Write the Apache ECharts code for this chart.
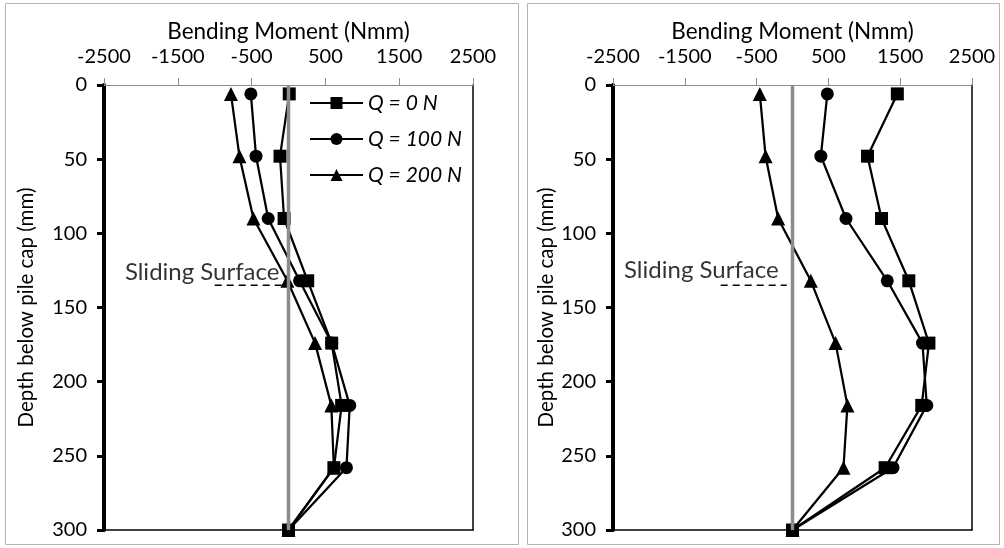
<!DOCTYPE html>
<html>
<head>
<meta charset="utf-8">
<script src="https://cdn.jsdelivr.net/npm/echarts@6/dist/echarts.min.js"></script>
<style>
  html, body { margin: 0; padding: 0; background: #fff; }
  #chart { width: 1004px; height: 548px; }
</style>
</head>
<body>
<div id="chart"></div>
<script>
// Depth of each gauge below the pile cap (mm)
const depths = [6, 48, 90, 132, 174, 216, 258, 300];

// Bending moment profiles (Nmm), left pile
const leftQ0   = [10, -115, -60, 260, 585, 720, 615, 0];
const leftQ100 = [-510, -440, -275, 150, 585, 830, 785, 0];
const leftQ200 = [-780, -665, -475, -15, 360, 580, 615, 0];

// Bending moment profiles (Nmm), right pile
const rightQ0   = [1460, 1045, 1240, 1620, 1900, 1800, 1290, 0];
const rightQ100 = [485, 395, 745, 1320, 1810, 1870, 1400, 0];
const rightQ200 = [-455, -375, -200, 255, 600, 765, 710, 0];

const seriesNames = ['Q = 0 N', 'Q = 100 N', 'Q = 200 N'];
const xTicks = [-2500, 2500, 1000];   // min, max, step
const yTicks = [0, 300, 50];

// Sliding surface marker: depth and extent of dashed line, label anchor per chart
const slidingDepth = 135;
const slidingLine = [-1000, -80];
const slidingLabelLeft = [-1170, 126];
const slidingLabelRight = [-1270, 125];

const FONT = 'Lato';
const FS_TITLE = 22.5;
const FS_YNAME = 20.5;
const FS_TICK = 20;
const FS_LEGEND = 21;
const FS_NOTE = 24;

const chart = echarts.init(document.getElementById('chart'), null, { renderer: 'canvas' });

function pairs(values) {
  return values.map((v, i) => [v, depths[i]]);
}

function plain(v) { return String(v); }

function grids() {
  return [
    { left: 104, right: 531, top: 85, bottom: 18 },
    { left: 613, right: 32, top: 85, bottom: 18 }
  ];
}

function xAxes() {
  const axes = [];
  [0, 1].forEach(g => {
    axes.push({
      type: 'value', gridIndex: g, position: 'top',
      min: xTicks[0], max: xTicks[1], interval: xTicks[2],
      name: 'Bending Moment (Nmm)', nameLocation: 'middle', nameGap: 42,
      nameMoveOverlap: false,
      nameTextStyle: { fontFamily: FONT, fontSize: FS_TITLE, color: '#000' },
      axisLine: { show: true, lineStyle: { color: '#8c8c8c', width: 1 } },
      axisTick: { show: true, inside: false, length: 7, lineStyle: { color: '#8c8c8c', width: 1 } },
      axisLabel: { fontFamily: FONT, fontSize: FS_TICK, color: '#000', margin: 18, formatter: plain },
      splitLine: { show: false }
    });
  });
  // bottom frame lines of each plot
  [0, 1].forEach(g => {
    axes.push({
      type: 'value', gridIndex: g, position: 'bottom',
      min: xTicks[0], max: xTicks[1],
      axisLine: { show: true, onZero: false, lineStyle: { color: '#000', width: 1.5 } },
      axisTick: { show: false }, axisLabel: { show: false }, splitLine: { show: false }
    });
  });
  return axes;
}

function yAxes() {
  const axes = [];
  const gaps = [67, 54];
  [0, 1].forEach(g => {
    axes.push({
      type: 'value', gridIndex: g, position: 'left', inverse: true,
      min: yTicks[0], max: yTicks[1], interval: yTicks[2],
      name: 'Depth below pile cap (mm)', nameLocation: 'middle', nameGap: gaps[g],
      nameTextStyle: { fontFamily: FONT, fontSize: FS_YNAME, color: '#000' },
      axisLine: { show: true, onZero: false, lineStyle: { color: '#000', width: 4 } },
      axisTick: { show: true, inside: false, length: 7, lineStyle: { color: '#000', width: 3 } },
      axisLabel: { fontFamily: FONT, fontSize: FS_TICK, color: '#000', margin: 17, formatter: plain },
      splitLine: { show: false }
    });
  });
  // right frame lines of each plot
  [0, 1].forEach(g => {
    axes.push({
      type: 'value', gridIndex: g, position: 'right', inverse: true,
      min: yTicks[0], max: yTicks[1],
      axisLine: { show: true, onZero: false, lineStyle: { color: '#000', width: 1.5 } },
      axisTick: { show: false }, axisLabel: { show: false }, splitLine: { show: false }
    });
  });
  return axes;
}

function profile(name, values, symbol, size, g) {
  return {
    name: name, type: 'line', xAxisIndex: g, yAxisIndex: g,
    data: pairs(values), symbol: symbol, symbolSize: size,
    showSymbol: true,
    itemStyle: { color: '#000', borderWidth: 0 },
    lineStyle: { color: '#000', width: 2.25 },
    emphasis: { disabled: true }, animation: false, z: 3
  };
}

function extras(g, labelPos) {
  return [
    {
      type: 'line', xAxisIndex: g, yAxisIndex: g, silent: true, animation: false,
      data: [[0, yTicks[0]], [0, yTicks[1]]], symbol: 'none',
      lineStyle: { color: '#8c8c8c', width: 3.5 }, z: 4
    },
    {
      type: 'line', xAxisIndex: g, yAxisIndex: g, silent: true, animation: false,
      data: [[slidingLine[0], slidingDepth], [slidingLine[1], slidingDepth]], symbol: 'none',
      lineStyle: { color: '#000', width: 1.5, type: [7, 5] }, z: 2
    },
    {
      type: 'scatter', xAxisIndex: g, yAxisIndex: g, silent: true, animation: false,
      data: [labelPos], symbolSize: 0,
      label: { show: true, position: 'inside', formatter: 'Sliding Surface',
               fontFamily: FONT, fontSize: FS_NOTE, color: '#000' },
      z: 5
    }
  ];
}

function buildSeries() {
  const s = [];
  // draw order: triangles, circles, then squares on top
  s.push(profile(seriesNames[2], leftQ200, 'triangle', 14, 0));
  s.push(profile(seriesNames[1], leftQ100, 'circle', 13, 0));
  s.push(profile(seriesNames[0], leftQ0, 'rect', 13, 0));
  s.push(profile(seriesNames[2], rightQ200, 'triangle', 14, 1));
  s.push(profile(seriesNames[1], rightQ100, 'circle', 13, 1));
  s.push(profile(seriesNames[0], rightQ0, 'rect', 13, 1));
  return s.concat(extras(0, slidingLabelLeft), extras(1, slidingLabelRight));
}

const option = {
  backgroundColor: '#fff',
  animation: false,
  grid: grids(),
  xAxis: xAxes(),
  yAxis: yAxes(),
  legend: {
    data: seriesNames,
    orient: 'vertical', left: 304, top: 87,
    itemWidth: 53, itemHeight: 15, itemGap: 14,
    textStyle: { fontFamily: FONT, fontSize: FS_LEGEND, fontStyle: 'italic', color: '#000', lineHeight: 22 },
    selectedMode: false
  },
  graphic: [
    { type: 'rect', shape: { x: 5.5, y: 3.5, width: 513, height: 541 },
      style: { fill: 'none', stroke: '#b4b4b4', lineWidth: 1 }, silent: true, z: -10 },
    { type: 'rect', shape: { x: 527.5, y: 3.5, width: 472, height: 541 },
      style: { fill: 'none', stroke: '#b4b4b4', lineWidth: 1 }, silent: true, z: -10 }
  ],
  series: buildSeries()
};

chart.setOption(option);
</script>
</body>
</html>
